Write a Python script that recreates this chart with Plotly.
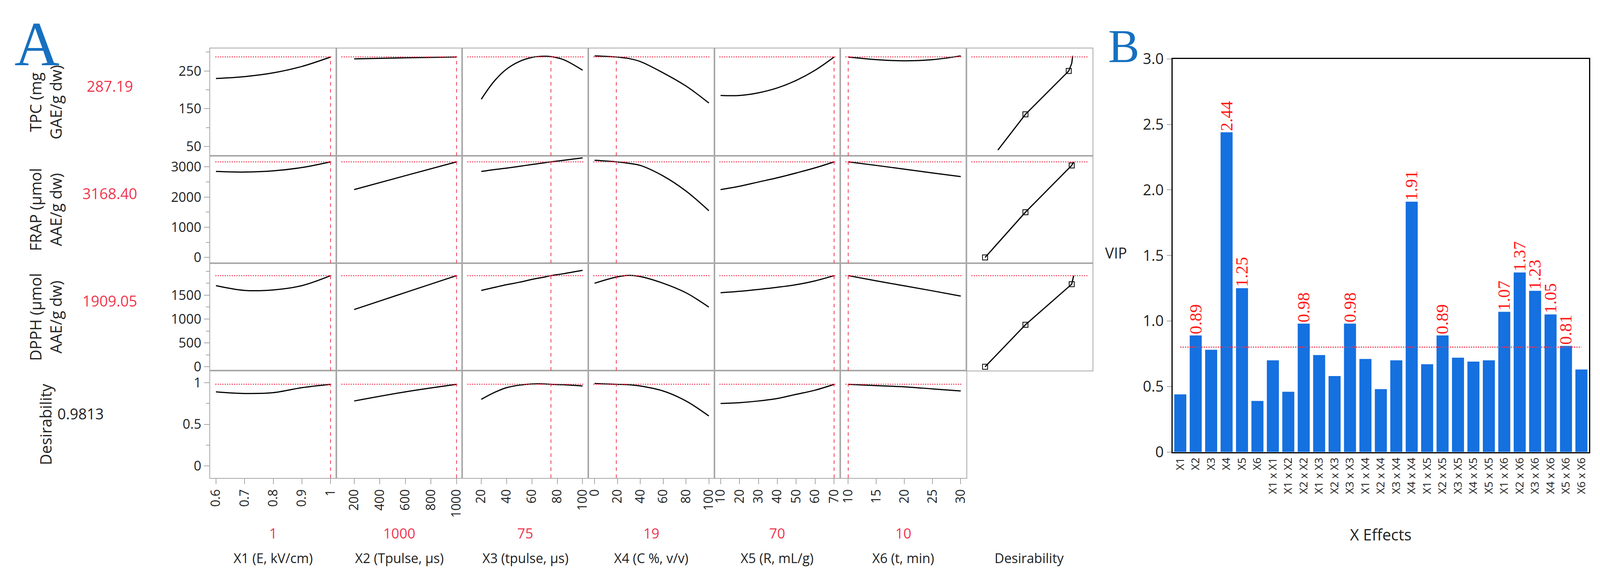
import plotly.graph_objects as go

W, H = 4117, 1493
factors = ["X1 (E, kV/cm)", "X2 (Tpulse, µs)", "X3 (tpulse, µs)", "X4 (C %, v/v)", "X5 (R, mL/g)", "X6 (t, min)", "Desirability"]
factor_current = ["1", "1000", "75", "19", "70", "10"]
factor_cur_val = [1, 1000, 75, 19, 70, 10]
responses = ["TPC (mg<br>GAE/g dw)", "FRAP (µmol<br>AAE/g dw)", "DPPH (µmol<br>AAE/g dw)", "Desirability"]
resp_current = ["287.19", "3168.40", "1909.05", "0.9813"]
resp_cur_val = [287.19, 3168.40, 1909.05, 0.9813]

# profiler curves: [response][factor] -> (x list, y list)
x_pts = [
    [0.6, 0.7, 0.8, 0.9, 1.0],
    [200, 600, 1000],
    [20, 30, 40, 50, 60, 70, 75, 85, 100],
    [0, 19, 30, 40, 60, 80, 100],
    [10, 20, 30, 40, 50, 60, 70],
    [10, 15, 20, 25, 30],
]
tpc_y = [
    [230, 235, 245, 262, 287],
    [282, 285, 287],
    [175, 222, 255, 275, 286, 289, 288, 280, 252],
    [290, 287, 283, 275, 245, 210, 165],
    [185, 185, 192, 205, 225, 252, 287],
    [287, 280, 277, 280, 290],
]
frap_y = [
    [2850, 2830, 2870, 2980, 3168],
    [2250, 2710, 3168],
    [2850, 2910, 2960, 3020, 3080, 3140, 3168, 3220, 3300],
    [3220, 3168, 3120, 3050, 2700, 2200, 1550],
    [2250, 2360, 2500, 2640, 2800, 2970, 3168],
    [3168, 3050, 2925, 2800, 2680],
]
dpph_y = [
    [1700, 1600, 1610, 1700, 1909],
    [1200, 1555, 1909],
    [1600, 1660, 1720, 1770, 1830, 1880, 1909, 1950, 2020],
    [1750, 1880, 1915, 1890, 1750, 1550, 1250],
    [1550, 1580, 1620, 1665, 1720, 1800, 1909],
    [1909, 1800, 1695, 1590, 1480],
]
des_y = [
    [0.89, 0.87, 0.88, 0.94, 0.98],
    [0.78, 0.89, 0.98],
    [0.80, 0.88, 0.94, 0.97, 0.985, 0.985, 0.98, 0.975, 0.96],
    [0.99, 0.98, 0.975, 0.96, 0.90, 0.78, 0.60],
    [0.75, 0.76, 0.78, 0.81, 0.86, 0.91, 0.98],
    [0.98, 0.965, 0.95, 0.925, 0.90],
]
resp_y = [tpc_y, frap_y, dpph_y, des_y]

# desirability column curves
desir_x = [[0.25, 0.53, 0.97, 1.0, 1.01], [0.12, 0.53, 1.0, 1.02], [0.12, 0.53, 1.0, 1.02]]
desir_y = [[40, 135, 250, 270, 290], [0, 1500, 3050, 3168], [0, 880, 1730, 1909]]
desir_mark_x = [[0.53, 0.97], [0.12, 0.53, 1.0], [0.12, 0.53, 1.0]]
desir_mark_y = [[135, 250], [0, 1500, 3050], [0, 880, 1730]]

x_ranges = [[0.58, 1.02], [60, 1045], [5, 104.5], [-5.5, 104.8], [6.7, 73.3], [8.6, 31], [-0.07, 1.21]]
x_ticks = [[0.6, 0.7, 0.8, 0.9, 1], [200, 400, 600, 800, 1000], [20, 40, 60, 80, 100], [0, 20, 40, 60, 80, 100],
           [10, 20, 30, 40, 50, 60, 70], [10, 15, 20, 25, 30], [0, 0.25, 0.5, 0.75, 1]]
y_ranges = [[25, 310], [-190, 3370], [-80, 2170], [-0.145, 1.145]]
y_ticks = [[50, 150, 250], [0, 1000, 2000, 3000], [0, 500, 1000, 1500], [0, 0.5, 1]]
y_minor = [50, 500, 250, 0.25]

# VIP panel
vip_cats = ["X1", "X2", "X3", "X4", "X5", "X6", "X1 x X1", "X1 x X2", "X2 x X2", "X1 x X3", "X2 x X3", "X3 x X3",
            "X1 x X4", "X2 x X4", "X3 x X4", "X4 x X4", "X1 x X5", "X2 x X5", "X3 x X5", "X4 x X5", "X5 x X5",
            "X1 x X6", "X2 x X6", "X3 x X6", "X4 x X6", "X5 x X6", "X6 x X6"]
vip_vals = [0.44, 0.89, 0.78, 2.44, 1.25, 0.39, 0.70, 0.46, 0.98, 0.74, 0.58, 0.98, 0.71, 0.48, 0.70, 1.91,
            0.67, 0.89, 0.72, 0.69, 0.70, 1.07, 1.37, 1.23, 1.05, 0.81, 0.63]
vip_threshold = 0.8

FONT = "Open Sans"
RED = "#f0364f"
GRAY = "#a8a8a8"

gx0, gx1 = 523 / W, 2789 / W
gy_top, gy_bot = 1 - 91 / H, 1 - 1231 / H
cw = (gx1 - gx0) / 7
rh = (gy_top - gy_bot) / 4

fig = go.Figure()
layout = {}
shapes = []
annotations = []


def ann(text, x, y, size, color="#222", family=FONT, angle=0):
    annotations.append(dict(text=text, x=x, y=y, xref="paper", yref="paper", xanchor="center", yanchor="middle",
                            textangle=angle, showarrow=False, align="center",
                            font=dict(family=family, size=size, color=color)))


for r in range(4):
    for c in range(7):
        n = r * 7 + c + 1
        xa = f"xaxis{n}" if n > 1 else "xaxis"
        ya = f"yaxis{n}" if n > 1 else "yaxis"
        xr = f"x{n}" if n > 1 else "x"
        yr = f"y{n}" if n > 1 else "y"
        bottom = r == 3
        left = c == 0
        layout[xa] = dict(domain=[gx0 + c * cw, gx0 + (c + 1) * cw], anchor=yr, range=x_ranges[c],
                          showgrid=False, zeroline=False, showline=True, mirror=True, linecolor=GRAY, linewidth=2,
                          tickvals=x_ticks[c] if bottom else [], ticks="outside" if bottom else "",
                          ticklen=14, tickcolor=GRAY, tickwidth=2, tickangle=-90,
                          tickfont=dict(family=FONT, size=32, color="#222"), showticklabels=bottom)
        layout[ya] = dict(domain=[gy_top - (r + 1) * rh, gy_top - r * rh], anchor=xr, range=y_ranges[r],
                          showgrid=False, zeroline=False, showline=True, mirror=True, linecolor=GRAY, linewidth=2,
                          tickvals=y_ticks[r] if left else [], ticks="outside" if left else "",
                          ticklen=14, tickcolor=GRAY, tickwidth=2,
                          minor=dict(dtick=y_minor[r], ticks="outside" if left else "", ticklen=9, tickcolor=GRAY),
                          tickfont=dict(family=FONT, size=34, color="#222"), showticklabels=left)
        if c < 6:
            fig.add_trace(go.Scatter(x=x_pts[c], y=resp_y[r][c], mode="lines", line=dict(color="black", width=3, shape="spline"),
                                     xaxis=xr, yaxis=yr, showlegend=False, hoverinfo="skip"))
            shapes.append(dict(type="line", xref=xr, yref=yr, x0=factor_cur_val[c], x1=factor_cur_val[c],
                               y0=y_ranges[r][0], y1=resp_cur_val[r], line=dict(color=RED, width=2, dash="dash")))
        elif r < 3:
            fig.add_trace(go.Scatter(x=desir_x[r], y=desir_y[r], mode="lines", line=dict(color="black", width=3),
                                     xaxis=xr, yaxis=yr, showlegend=False, hoverinfo="skip"))
            fig.add_trace(go.Scatter(x=desir_mark_x[r], y=desir_mark_y[r], mode="markers",
                                     marker=dict(symbol="square-open", size=13, color="black", line=dict(width=2)),
                                     xaxis=xr, yaxis=yr, showlegend=False, hoverinfo="skip"))
        if not (c == 6 and r == 3):
            shapes.append(dict(type="line", xref=f"{xr} domain", yref=yr, x0=0.04, x1=0.97,
                               y0=resp_cur_val[r], y1=resp_cur_val[r], line=dict(color=RED, width=2.5, dash="dot")))
    ymid = gy_top - (r + 0.5) * rh
    ann(responses[r], 100 / W, ymid, 40, angle=-90)
    if r < 3:
        ann(resp_current[r], 265 / W, ymid + 0.15 * rh, 38, color=RED)
    else:
        ann(resp_current[r], 190 / W, ymid + 0.1 * rh, 38)

for c in range(7):
    xm = gx0 + (c + 0.5) * cw
    if c < 6:
        ann(factor_current[c], xm, 1 - 1377 / H, 36, color=RED)
    ann(factors[c], xm, 1 - 1443 / H, 34)

# Panel B
n = 29
bx0, bx1 = 2995 / W, 4065 / W
vip_text = [f"{v:.2f}" if v > vip_threshold else "" for v in vip_vals]
fig.add_trace(go.Bar(x=vip_cats, y=vip_vals, marker=dict(color="#1570e0", line=dict(width=0)), width=0.78,
                     text=vip_text, textposition="outside", textangle=-90, cliponaxis=False, constraintext="none",
                     textfont=dict(family="Liberation Serif", size=44, color="#ff1a1a"),
                     xaxis=f"x{n}", yaxis=f"y{n}", showlegend=False, hoverinfo="skip"))
fig.add_trace(go.Scatter(x=vip_cats, y=[vip_threshold] * len(vip_cats), mode="lines",
                         line=dict(color=RED, width=3, dash="dot"), xaxis=f"x{n}", yaxis=f"y{n}",
                         showlegend=False, hoverinfo="skip"))
layout[f"xaxis{n}"] = dict(domain=[bx0, bx1], anchor=f"y{n}", showline=True, mirror=True, linecolor="black",
                            linewidth=3, tickangle=-90, tickfont=dict(family=FONT, size=28, color="#222"),
                            range=[-0.5, len(vip_cats) - 0.5], showgrid=False, ticks="")
layout[f"yaxis{n}"] = dict(domain=[1 - 1162 / H, 1 - 119 / H], anchor=f"x{n}", range=[0, 3.0], showline=True,
                            mirror=True, linecolor="black", linewidth=3, tickvals=[0, 0.5, 1, 1.5, 2, 2.5, 3],
                            ticktext=["0", "0.5", "1.0", "1.5", "2.0", "2.5", "3.0"], ticks="outside", ticklen=12,
                            tickcolor=GRAY, tickwidth=2, showgrid=False, zeroline=False,
                            tickfont=dict(family=FONT, size=38, color="#222"))
ann("VIP", 2850 / W, 1 - 633 / H, 38)
ann("X Effects", (bx0 + bx1) / 2, 1 - 1381 / H, 40)
ann("A", 78 / W, 1 - 80 / H, 160, color="#1670c0", family="Liberation Serif")
ann("B", 2870 / W, 1 - 85 / H, 120, color="#1670c0", family="Liberation Serif")

fig.update_layout(width=W, height=H, margin=dict(l=0, r=0, t=0, b=0), paper_bgcolor="white",
                  plot_bgcolor="white", shapes=shapes, annotations=annotations, bargap=0.2, **layout)
fig.write_html("out.html")
